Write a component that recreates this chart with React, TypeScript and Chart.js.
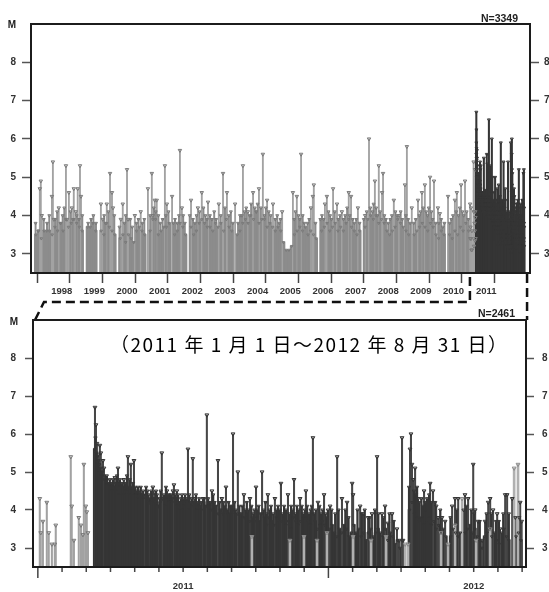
import React, { useEffect, useRef } from "react";
import { Chart, registerables } from "chart.js";

Chart.register(...registerables);

type Pt = [number, number];

// ---------------- axes / labels ----------------
const Y_MIN = 2.5;
const Y_MAX = 9;
const M_TICKS = [3, 4, 5, 6, 7, 8];

const TOP_X_MIN = 1997.56;
const TOP_X_MAX = 2012.84;
const TOP_YEAR_TICKS = [1998, 1999, 2000, 2001, 2002, 2003, 2004, 2005, 2006, 2007, 2008, 2009, 2010, 2011, 2012];
const TOP_YEAR_LABELS = [1998, 1999, 2000, 2001, 2002, 2003, 2004, 2005, 2006, 2007, 2008, 2009, 2010, 2011];
const TOP_COUNT_LABEL = "N=3349";

// bottom panel: months since 2011-01-01
const BOTTOM_X_MIN = -0.2;
const BOTTOM_X_MAX = 20.16;
const BOTTOM_MONTH_TICKS = [0, 1, 2, 3, 4, 5, 6, 7, 8, 9, 10, 11, 12, 13, 14, 15, 16, 17, 18, 19, 20];
const BOTTOM_LABEL_MONTHS = [6, 18];
const BOTTOM_LABEL_TEXT = ["2011", "2012"];
const BOTTOM_COUNT_LABEL = "N=2461";
const SUBTITLE = "（2011 年 1 月 1 日～2012 年 8 月 31 日）";

const ZOOM_START_YEAR = 2011;
const ZOOM_END_YEAR = 2012.75;

// ---------------- data: before 2011 (decimal years) ----------------
// monthly background activity (dense small events), rows = years 1997..2010
const PRE_BASE_FIRST_YEAR = 1997;
const PRE_BASE_MONTHLY: (number | null)[][] = [
  [null, null, null, null, null, null, null, null, 3.5, 3.6, 3.4, 3.6],
  [3.6, 3.6, 3.5, 3.7, 3.6, 3.8, 3.6, 3.9, 3.7, 3.8, 3.9, 3.8],
  [3.7, 3.6, null, 3.7, 3.7, 3.8, 3.6, null, 3.6, 3.5, 3.8, 3.7],
  [3.6, 3.5, null, 3.4, 3.5, 3.3, 3.5, 3.4, 3.3, 3.6, 3.7, 3.6],
  [3.5, null, 3.6, 3.9, 3.9, 3.5, 3.6, 3.7, 3.7, 3.8, null, 3.5],
  [3.6, 3.8, 3.7, 3.5, null, 3.7, 3.5, 3.6, 3.8, 3.9, 3.8, 3.7],
  [3.7, 3.6, 3.8, 3.7, 3.8, 3.6, 3.9, 3.7, 3.6, null, 3.5, 3.6],
  [3.8, 3.9, 3.8, 4.0, 3.9, 4.1, 3.8, 3.9, 3.9, 3.7, 3.8, 3.7],
  [3.6, 3.7, 3.6, 3.3, 3.1, 3.1, 3.2, 3.5, 3.6, 3.7, 3.6, 3.7],
  [3.5, 3.6, 3.5, 3.4, null, 3.6, 3.7, 3.8, 3.6, 3.7, 3.8, 3.6],
  [3.7, 3.6, 3.8, 3.9, 3.7, 3.6, 3.5, 3.6, null, 3.7, 3.9, 4.0],
  [3.9, 4.0, 3.8, 3.9, 3.8, 3.6, 3.5, 3.6, 3.7, 3.9, 3.8, 3.7],
  [3.6, 3.5, null, 3.5, 3.6, 3.7, 3.8, 3.7, 3.6, 3.8, 3.7, 3.5],
  [3.4, 3.6, 3.5, null, 3.5, 3.4, 3.6, 3.5, 3.7, 3.6, 3.8, 3.6],
];

// medium events poking above the background [year, M]
const PRE_MID: Pt[] = [
  [1997.7, 3.8], [1997.78, 3.6], [1997.95, 3.9],
  [1998.05, 3.8], [1998.12, 4.0], [1998.3, 3.9], [1998.36, 4.1], [1998.47, 3.8], [1998.53, 4.0],
  [1998.58, 4.2], [1998.77, 4.1], [1998.84, 3.9], [1998.96, 4.0],
  [1999.03, 3.9], [1999.13, 4.0], [1999.31, 3.8], [1999.4, 3.9], [1999.47, 4.0], [1999.55, 3.8],
  [1999.8, 4.0], [1999.84, 3.8], [1999.93, 4.1],
  [2000.11, 4.0], [2000.27, 3.7], [2000.42, 3.8], [2000.46, 4.0], [2000.6, 3.9], [2000.66, 3.7],
  [2000.79, 3.8], [2000.85, 3.9], [2000.97, 3.8],
  [2001.03, 3.9], [2001.21, 4.0], [2001.32, 4.2], [2001.38, 4.1], [2001.46, 4.0], [2001.52, 3.8],
  [2001.59, 3.9], [2001.69, 4.0], [2001.77, 4.1], [2001.92, 3.8], [2001.97, 3.9],
  [2002.04, 3.8], [2002.09, 4.0], [2002.22, 4.0], [2002.27, 3.8], [2002.42, 4.0], [2002.52, 3.9],
  [2002.58, 3.8], [2002.63, 4.0], [2002.72, 4.1], [2002.84, 4.2], [2002.9, 4.0], [2002.95, 3.9],
  [2003.04, 4.0], [2003.1, 3.9], [2003.17, 4.1], [2003.23, 3.9], [2003.37, 4.0], [2003.5, 4.2],
  [2003.62, 4.0], [2003.68, 4.1], [2003.74, 3.8], [2003.9, 3.8], [2003.96, 4.0],
  [2004.02, 4.0], [2004.1, 4.1], [2004.15, 4.2], [2004.25, 4.0], [2004.3, 4.3], [2004.41, 4.2],
  [2004.46, 4.1], [2004.5, 4.3], [2004.6, 4.2], [2004.71, 4.0], [2004.75, 4.2], [2004.84, 4.1],
  [2004.9, 4.0],
  [2005.04, 3.9], [2005.1, 4.0], [2005.16, 3.8], [2005.2, 3.9], [2005.62, 3.9], [2005.66, 4.1],
  [2005.75, 4.0], [2005.79, 3.9], [2005.88, 4.0], [2005.93, 3.8],
  [2006.03, 3.8], [2006.08, 3.9], [2006.27, 3.8], [2006.42, 3.9], [2006.47, 4.0], [2006.52, 3.9],
  [2006.67, 4.1], [2006.72, 4.0], [2006.76, 3.9], [2006.86, 4.1], [2006.97, 3.9],
  [2007.02, 4.0], [2007.13, 3.9], [2007.18, 4.0], [2007.24, 4.2], [2007.32, 4.0], [2007.41, 3.9],
  [2007.46, 3.8], [2007.52, 3.9], [2007.62, 3.8], [2007.75, 3.9], [2007.84, 4.1], [2007.95, 4.2],
  [2008.02, 4.1], [2008.05, 4.3], [2008.13, 4.2], [2008.17, 4.0], [2008.25, 4.1], [2008.38, 4.0],
  [2008.43, 3.9], [2008.5, 3.8], [2008.56, 3.9], [2008.61, 4.0], [2008.72, 4.1], [2008.77, 4.0],
  [2008.88, 4.1], [2008.93, 3.9],
  [2009.04, 4.0], [2009.11, 3.9], [2009.17, 3.8], [2009.28, 3.8], [2009.34, 3.9], [2009.45, 4.0],
  [2009.49, 4.1], [2009.57, 4.2], [2009.66, 4.1], [2009.7, 4.0], [2009.74, 4.2], [2009.82, 4.1],
  [2009.86, 3.9], [2009.95, 3.8],
  [2010.05, 3.8], [2010.12, 3.9], [2010.17, 3.7], [2010.22, 3.8], [2010.38, 3.8], [2010.43, 3.9],
  [2010.48, 4.0], [2010.58, 4.1], [2010.65, 4.0], [2010.69, 4.2], [2010.77, 4.1], [2010.81, 4.0],
  [2010.9, 4.1], [2010.95, 3.9],
];

// larger individual events [year, M]
const PRE_PEAKS: Pt[] = [
  [1997.83, 4.7], [1997.86, 4.9], [1997.89, 4.0], [1998.2, 4.5], [1998.23, 5.4], [1998.26, 3.9],
  [1998.41, 4.2], [1998.63, 5.3], [1998.66, 3.9], [1998.72, 4.6], [1998.81, 4.2], [1998.87, 4.7],
  [1998.93, 4.1], [1998.99, 4.7], [1999.06, 5.3], [1999.09, 4.5], [1999.7, 4.3], [1999.76, 3.9],
  [1999.88, 4.3], [1999.98, 5.1], [2000.04, 4.6], [2000.07, 4.2], [2000.31, 3.9], [2000.37, 4.3],
  [2000.5, 5.2], [2000.53, 3.9], [2000.74, 4.0], [2000.92, 4.1], [2001.14, 4.7], [2001.26, 5.1],
  [2001.29, 4.0], [2001.35, 4.4], [2001.41, 4.4], [2001.66, 5.3], [2001.72, 4.3], [2001.88, 4.5],
  [2002.12, 5.7], [2002.18, 4.2], [2002.46, 4.4], [2002.67, 4.2], [2002.79, 4.6], [2002.98, 4.35],
  [2003.31, 4.3], [2003.44, 5.1], [2003.56, 4.6], [2003.81, 4.3], [2004.05, 5.3], [2004.2, 4.1],
  [2004.36, 4.6], [2004.54, 4.7], [2004.66, 5.6], [2004.79, 4.4], [2004.97, 4.3], [2005.25, 4.1],
  [2005.58, 4.6], [2005.7, 4.5], [2005.83, 5.6], [2006.13, 4.2], [2006.19, 4.5], [2006.22, 4.8],
  [2006.56, 4.3], [2006.62, 4.5], [2006.81, 4.7], [2006.93, 4.3], [2007.08, 4.1], [2007.29, 4.6],
  [2007.36, 4.5], [2007.57, 4.2], [2007.79, 4.0], [2007.91, 6.0], [2008.09, 4.9], [2008.21, 5.3],
  [2008.31, 4.6], [2008.34, 5.1], [2008.67, 4.4], [2008.83, 4.0], [2009.01, 4.8], [2009.07, 5.8],
  [2009.22, 4.2], [2009.41, 4.4], [2009.53, 4.6], [2009.62, 4.8], [2009.78, 5.0], [2009.9, 4.9],
  [2010.02, 4.2], [2010.08, 4.05], [2010.33, 4.5], [2010.54, 4.4], [2010.6, 4.6], [2010.73, 4.8],
  [2010.85, 4.9],
];

// ---------------- data: 2011-01-01 .. 2012-08-31 (months since 2011-01-01) ----------------
// events before the 2011-03-11 mainshock [month, M]
const EARLY_2011: Pt[] = [
  [0.08, 4.3], [0.12, 3.4], [0.21, 3.7], [0.37, 4.2], [0.45, 3.4], [0.58, 3.1], [0.7, 3.1],
  [0.74, 3.6], [1.36, 5.4], [1.4, 4.1], [1.49, 3.2], [1.69, 3.8], [1.78, 3.6], [1.86, 3.35],
  [1.9, 5.2], [1.98, 4.1], [2.02, 3.95], [2.07, 3.4],
];

// dense aftershock background, rows = months 2 (Mar 2011) .. 19 (Aug 2012), 10 bins each
const DARK_BASE_FIRST_MONTH = 2;
const DARK_BASE_BINS: (number | null)[][] = [
  [null, null, null, 5.6, 5.4, 5.2, 5.0, 4.9, 4.7, 4.6],
  [4.5, 4.6, 4.5, 4.4, 4.6, 4.4, 4.5, 4.4, 4.5, 4.4],
  [4.4, 4.3, 4.4, 4.3, 4.4, 4.2, 4.3, 4.3, 4.2, 4.1],
  [4.2, 4.3, 4.1, 4.3, 4.4, 4.2, 4.3, 4.1, 4.2, 4.0],
  [4.1, 4.2, 4.0, 4.1, 4.2, 4.0, 4.1, 4.0, 4.2, 4.1],
  [4.2, 4.0, 4.0, 4.1, 3.9, 4.0, 3.9, 4.0, 3.9, 3.9],
  [4.0, 3.9, 3.9, 3.9, 3.8, 3.8, 3.9, 3.7, 3.8, 3.7],
  [3.8, 3.7, 3.9, 3.8, 3.6, 3.8, 3.7, 3.6, 3.8, 3.7],
  [3.7, 3.8, 3.6, 3.7, 3.5, 3.8, 3.7, 3.6, 3.7, 3.8],
  [3.8, 3.7, 3.6, 3.9, 3.7, 3.5, 3.6, 3.7, 3.6, 3.8],
  [3.5, 3.6, 3.4, 3.3, 3.5, 3.4, 3.6, 3.5, 3.3, 3.4],
  [3.6, 3.4, 3.5, 3.3, 3.4, 3.2, 3.4, 3.5, 3.3, 3.4],
  [3.5, 3.4, 3.3, 3.5, 3.2, 3.4, 3.3, 3.1, 3.2, 3.0],
  [3.2, null, null, 4.0, 4.2, 3.9, 3.8, 3.7, 3.8, 3.6],
  [3.7, 3.8, 3.6, 3.7, 3.5, 3.6, 3.4, 3.5, 3.3, null],
  [3.3, 3.5, 3.4, 3.3, 3.4, null, 3.4, 3.5, 3.6, 3.4],
  [3.5, 3.3, 3.2, 3.0, 3.3, 3.4, 3.5, 3.3, 3.4, 3.2],
  [3.1, 3.4, 3.5, 3.3, 3.2, null, null, 3.3, 3.4, 3.2],
];

// medium aftershocks forming the ragged top of the dark mass [month, M]
const DARK_MID: Pt[] = [
  [2.38, 5.9], [2.42, 5.5], [2.46, 5.2], [2.5, 5.3], [2.53, 5.0], [2.58, 5.1], [2.63, 4.9],
  [2.66, 5.0], [2.77, 4.8], [2.85, 4.9], [2.93, 4.7], [2.97, 4.8],
  [3.02, 4.7], [3.1, 4.8], [3.14, 4.6], [3.22, 4.7], [3.27, 4.9], [3.36, 4.7], [3.39, 4.8],
  [3.47, 4.7], [3.51, 4.6], [3.6, 4.7], [3.68, 4.9], [3.77, 4.6], [3.8, 4.8], [3.88, 4.6], [3.93, 4.7],
  [4.02, 4.6], [4.05, 4.5], [4.13, 4.6], [4.17, 4.5], [4.25, 4.6], [4.3, 4.4], [4.35, 4.5],
  [4.47, 4.6], [4.52, 4.5], [4.57, 4.4], [4.68, 4.5], [4.71, 4.4], [4.79, 4.3], [4.88, 4.5], [4.92, 4.4],
  [5.03, 4.3], [5.07, 4.5], [5.21, 4.4], [5.26, 4.3], [5.29, 4.6], [5.38, 4.4], [5.41, 4.3],
  [5.5, 4.4], [5.54, 4.3], [5.66, 4.4], [5.7, 4.3], [5.79, 4.4], [5.83, 4.2], [5.91, 4.3], [5.95, 4.4],
  [6.04, 4.3], [6.08, 4.4], [6.13, 4.2], [6.16, 4.3], [6.25, 4.4], [6.3, 4.2], [6.35, 4.3],
  [6.44, 4.2], [6.53, 4.4], [6.57, 4.2], [6.66, 4.3], [6.7, 4.1], [6.75, 4.2], [6.87, 4.3], [6.92, 4.1],
  [7.03, 4.3], [7.08, 4.1], [7.13, 4.2], [7.24, 4.4], [7.3, 4.2], [7.35, 4.1], [7.5, 4.2],
  [7.55, 4.0], [7.66, 4.2], [7.72, 4.1], [7.82, 4.0], [7.88, 4.2], [7.95, 4.1],
  [8.02, 4.1], [8.12, 4.2], [8.17, 4.0], [8.32, 4.1], [8.38, 3.9], [8.45, 4.1], [8.57, 4.0],
  [8.63, 4.2], [8.7, 4.0], [8.82, 4.1], [8.9, 3.9], [8.95, 4.0],
  [9.05, 4.0], [9.12, 4.1], [9.2, 3.9], [9.33, 4.0], [9.4, 4.2], [9.45, 3.9], [9.57, 4.0],
  [9.63, 4.1], [9.72, 3.9], [9.85, 4.0], [9.92, 4.1],
  [10.0, 4.0], [10.1, 3.9], [10.17, 4.1], [10.25, 4.0], [10.38, 3.9], [10.46, 4.1], [10.52, 4.0],
  [10.64, 3.9], [10.7, 4.1], [10.77, 4.0], [10.9, 4.1], [10.96, 3.9],
  [11.03, 4.0], [11.12, 4.1], [11.2, 3.9], [11.27, 4.0], [11.31, 4.1], [11.42, 3.9], [11.48, 4.0],
  [11.63, 4.1], [11.7, 3.9], [11.76, 4.0], [11.88, 3.9], [11.98, 4.0],
  [12.13, 4.0], [12.28, 3.9], [12.42, 4.0], [12.7, 4.0], [12.83, 3.8],
  [13.2, 4.0], [13.37, 3.9], [13.5, 4.0], [13.7, 3.8], [13.92, 4.0],
  [14.06, 3.9], [14.27, 3.8], [14.52, 3.9], [14.7, 3.7],
  [15.33, 4.6], [15.53, 4.5], [15.62, 4.4], [15.66, 4.6], [15.75, 4.2], [15.84, 4.3], [15.9, 4.1], [15.99, 4.2],
  [16.07, 4.3], [16.16, 4.4], [16.25, 4.2], [16.41, 4.2], [16.62, 4.0],
  [17.04, 3.8], [17.3, 4.0], [17.58, 4.0], [17.7, 4.1], [17.9, 4.0],
  [18.02, 3.9], [18.25, 3.7], [18.53, 3.9], [18.73, 3.9], [18.92, 3.7],
  [19.04, 3.7], [19.22, 3.9], [19.45, 3.9], [19.72, 3.8], [19.88, 3.8],
];

// larger aftershocks [month, M]
const DARK_PEAKS: Pt[] = [
  [2.36, 6.7], [2.4, 6.24], [2.44, 5.75], [2.48, 5.45], [2.56, 5.7], [2.6, 5.5], [2.69, 5.3],
  [2.73, 5.1], [2.81, 4.75], [2.89, 4.65], [3.06, 4.6], [3.18, 4.85], [3.31, 5.1], [3.43, 4.6],
  [3.55, 4.8], [3.64, 4.55], [3.72, 5.4], [3.84, 5.2], [3.97, 5.3], [4.09, 4.4], [4.21, 4.4],
  [4.42, 4.35], [4.63, 4.2], [4.75, 4.6], [4.83, 4.45], [4.96, 4.1], [5.12, 5.5], [5.17, 4.3],
  [5.33, 4.5], [5.45, 4.2], [5.58, 4.5], [5.62, 4.66], [5.74, 4.5], [5.87, 4.0], [5.99, 4.2],
  [6.2, 5.6], [6.4, 5.35], [6.49, 4.3], [6.61, 4.0], [6.82, 4.3], [6.98, 6.5], [7.19, 4.5],
  [7.44, 5.3], [7.6, 4.3], [7.77, 4.6], [8.06, 6.0], [8.26, 5.0], [8.51, 4.4], [8.76, 4.3],
  [9.01, 4.6], [9.26, 5.0], [9.5, 4.4], [9.79, 4.3], [10.04, 4.7], [10.33, 4.4], [10.58, 4.8],
  [10.83, 4.3], [11.07, 4.5], [11.36, 5.9], [11.57, 4.2], [11.82, 4.4], [12.07, 4.1], [12.36, 5.4],
  [12.56, 4.3], [12.77, 4.2], [12.98, 4.7], [13.02, 4.4], [13.31, 4.1], [13.43, 3.9], [13.64, 3.8],
  [13.8, 3.9], [14.01, 5.4], [14.21, 3.9], [14.34, 4.1], [14.46, 3.65], [14.63, 3.9], [14.83, 3.5],
  [14.92, 3.2], [15.04, 5.9], [15.08, 3.2], [15.37, 5.6], [15.41, 6.0], [15.45, 5.2], [15.5, 4.8],
  [15.58, 5.1], [15.7, 4.3], [15.79, 3.75], [15.95, 4.5], [16.03, 3.95], [16.2, 4.7], [16.32, 4.5],
  [16.45, 4.1], [16.53, 3.8], [16.69, 3.8], [16.82, 3.7], [17.11, 4.1], [17.23, 4.3], [17.36, 4.3],
  [17.64, 4.4], [17.77, 4.3], [17.98, 5.2], [18.06, 4.0], [18.18, 3.7], [18.35, 3.2], [18.47, 3.7],
  [18.6, 4.2], [18.68, 4.3], [18.8, 4.0], [18.97, 3.9], [19.09, 3.5], [19.3, 4.4], [19.38, 4.4],
  [19.59, 4.3], [19.92, 4.2], [19.98, 3.7],
];

// light-grey events among the aftershocks [month, M]
const LIGHT_LATE: Pt[] = [
  [8.84, 3.3], [10.41, 3.2], [10.99, 3.3], [11.53, 3.2], [11.94, 3.4], [13.02, 3.3], [13.76, 3.2],
  [14.38, 3.3], [15.17, 3.1], [15.29, 3.1], [16.65, 3.4], [16.94, 3.1], [17.23, 3.6], [17.52, 4.3],
  [18.1, 3.2], [18.68, 3.5], [19.67, 5.1], [19.83, 5.2],
];

// ---------------- helpers ----------------
const FONT = "'Liberation Sans', Arial, Helvetica, sans-serif";
const LIGHT = "#8c8c8c";
const LIGHT_STEM = "#a2a2a2";
const LIGHT_MARK = "#7a7a7a";
const DARK = "#353535";
const DARK_STEM = "#474747";

function rowsToPoints(rows: (number | null)[][], first: number, perRow: number): Pt[] {
  const out: Pt[] = [];
  rows.forEach((row, r) =>
    row.forEach((v, i) => {
      if (v != null) out.push([first + r + (i + 0.5) / perRow, v]);
    })
  );
  return out;
}

const monthsToYear = (pts: Pt[]): Pt[] => pts.map(([m, v]) => [ZOOM_START_YEAR + m / 12, v]);

function stems(pts: Pt[], color: string, thickness: number, order: number) {
  return {
    type: "bar" as const,
    data: pts.map(([t, m]) => ({ x: t, y: [Y_MIN, m] })),
    backgroundColor: color,
    borderWidth: 0,
    barThickness: thickness,
    grouped: false,
    order,
  };
}

function marks(pts: Pt[], color: string, r: number, order: number) {
  return {
    type: "line" as const,
    data: pts.map(([t, m]) => ({ x: t, y: m })),
    showLine: false,
    pointStyle: "triangle",
    rotation: 180,
    pointRadius: r,
    pointHoverRadius: r,
    pointBorderColor: color,
    pointBackgroundColor: "rgba(0,0,0,0)",
    pointBorderWidth: 1,
    order,
  };
}

const tickFont = { family: FONT, size: 10, weight: "bold" as const };

function yAxes(leftW: number, rightW: number, padL: number, padR: number, tl: number) {
  const common = {
    type: "linear" as const,
    min: Y_MIN,
    max: Y_MAX,
    bounds: "data" as const,
    border: { display: false },
    afterBuildTicks: (s: any) => {
      s.ticks = M_TICKS.map((v) => ({ value: v }));
    },
  };
  return {
    y: {
      ...common,
      position: "left" as const,
      afterFit: (s: any) => {
        s.width = leftW;
      },
      grid: { drawOnChartArea: false, tickLength: tl, tickColor: "#555", tickWidth: 1.5 },
      ticks: { padding: padL, font: tickFont, color: "#333" },
    },
    y2: {
      ...common,
      position: "right" as const,
      afterFit: (s: any) => {
        s.width = rightW;
      },
      grid: { drawOnChartArea: false, tickLength: tl, tickColor: "#555", tickWidth: 1.5 },
      ticks: { padding: padR, font: tickFont, color: "#333" },
    },
  };
}

function drawFrame(ctx: CanvasRenderingContext2D, a: any) {
  ctx.strokeStyle = "#1c1c1c";
  ctx.lineWidth = 2;
  ctx.strokeRect(a.left, a.top, a.right - a.left, a.bottom - a.top);
}

// ---------------- top chart ----------------
function topConfig(): any {
  const preBase = rowsToPoints(PRE_BASE_MONTHLY, PRE_BASE_FIRST_YEAR, 12);
  const early = monthsToYear(EARLY_2011);
  const after = monthsToYear([
    ...rowsToPoints(DARK_BASE_BINS, DARK_BASE_FIRST_MONTH, 10),
    ...DARK_MID,
    ...DARK_PEAKS,
    ...LIGHT_LATE,
  ]);
  const decor = {
    id: "topDecor",
    afterDraw(chart: any) {
      const { ctx, chartArea: a, scales } = chart;
      ctx.save();
      drawFrame(ctx, a);
      ctx.fillStyle = "#222";
      ctx.font = `bold 10px ${FONT}`;
      ctx.textAlign = "center";
      ctx.textBaseline = "middle";
      ctx.fillText("M", 12, a.top + 1);
      ctx.textAlign = "right";
      ctx.font = `bold 10.5px ${FONT}`;
      ctx.fillText(TOP_COUNT_LABEL, a.right - 12, a.top - 5);
      const xs = scales.x.getPixelForValue(ZOOM_START_YEAR);
      const xe = scales.x.getPixelForValue(ZOOM_END_YEAR);
      ctx.setLineDash([9, 5]);
      ctx.lineWidth = 2.5;
      ctx.strokeStyle = "#111";
      ctx.beginPath();
      ctx.moveTo(35, 320);
      ctx.lineTo(44, 302);
      ctx.lineTo(xs, 302);
      ctx.lineTo(xs, a.bottom + 3);
      ctx.stroke();
      ctx.beginPath();
      ctx.moveTo(xe, a.bottom + 1);
      ctx.lineTo(xe, 320);
      ctx.stroke();
      ctx.restore();
    },
  };
  return {
    type: "bar",
    data: {
      datasets: [
        stems(preBase, LIGHT, 3, 9),
        stems(PRE_MID, LIGHT, 1.3, 8),
        stems(PRE_PEAKS, LIGHT_STEM, 1.2, 8),
        stems(early, LIGHT_STEM, 1.2, 8),
        stems(after, DARK, 1.4, 7),
        marks(preBase, LIGHT_MARK, 1.5, 3),
        marks(PRE_MID, LIGHT_MARK, 1.7, 3),
        marks(PRE_PEAKS, LIGHT_MARK, 2, 3),
        marks(early, LIGHT_MARK, 2, 3),
        marks(after, DARK, 1.7, 2),
      ],
    },
    options: {
      responsive: false,
      animation: false,
      events: [],
      layout: { padding: { top: 24, left: 0, right: 0, bottom: 0 } },
      plugins: { legend: { display: false }, tooltip: { enabled: false } },
      scales: {
        x: {
          type: "linear",
          position: "bottom",
          min: TOP_X_MIN,
          max: TOP_X_MAX,
          bounds: "data",
          offset: false,
          border: { display: false },
          afterBuildTicks: (s: any) => {
            s.ticks = [
              ...TOP_YEAR_TICKS.map((v) => ({ value: v })),
              ...TOP_YEAR_LABELS.map((v) => ({ value: v + 0.5 })),
            ].sort((p, q) => p.value - q.value);
          },
          afterFit: (s: any) => {
            s.height = 57;
          },
          grid: {
            drawOnChartArea: false,
            tickLength: 10,
            tickWidth: 1.5,
            tickColor: (c: any) => (c.tick && c.tick.value % 1 === 0 ? "#444" : "rgba(0,0,0,0)"),
          },
          ticks: {
            autoSkip: false,
            maxRotation: 0,
            minRotation: 0,
            padding: 3,
            font: { family: FONT, size: 9.5, weight: "bold" },
            color: "#333",
            callback: (v: any) => (Number(v) % 1 === 0 ? "" : String(Math.floor(Number(v)))),
          },
        },
        ...yAxes(31, 19, 6, 5, 9),
      },
    },
    plugins: [decor],
  };
}

// ---------------- bottom chart ----------------
function bottomConfig(): any {
  const darkBase = rowsToPoints(DARK_BASE_BINS, DARK_BASE_FIRST_MONTH, 10);
  const decor = {
    id: "bottomDecor",
    afterDraw(chart: any) {
      const { ctx, chartArea: a, scales } = chart;
      ctx.save();
      ctx.strokeStyle = "#444";
      ctx.lineWidth = 1.5;
      BOTTOM_MONTH_TICKS.forEach((m) => {
        const x = scales.x.getPixelForValue(m);
        const len = m % 12 === 0 ? 11 : 5;
        ctx.beginPath();
        ctx.moveTo(x, a.bottom);
        ctx.lineTo(x, a.bottom + len);
        ctx.stroke();
      });
      drawFrame(ctx, a);
      ctx.fillStyle = "#222";
      ctx.font = `bold 10px ${FONT}`;
      ctx.textAlign = "center";
      ctx.textBaseline = "middle";
      ctx.fillText("M", 14, a.top + 2);
      ctx.textAlign = "right";
      ctx.font = `bold 10.5px ${FONT}`;
      ctx.fillText(BOTTOM_COUNT_LABEL, a.right - 11, a.top - 6);
      ctx.fillStyle = "#000";
      ctx.textAlign = "left";
      ctx.font = `19px 'Noto Sans CJK JP', sans-serif`;
      const target = 397;
      const w0 = ctx.measureText(SUBTITLE).width;
      const n = Array.from(SUBTITLE).length;
      if ("letterSpacing" in ctx) {
        (ctx as any).letterSpacing = `${Math.max(0, (target - w0) / (n - 1))}px`;
      }
      ctx.fillText(SUBTITLE, 110, a.top + 25);
      ctx.restore();
    },
  };
  return {
    type: "bar",
    data: {
      datasets: [
        stems(darkBase, DARK, 3, 9),
        stems(DARK_MID, DARK, 1.6, 8),
        stems(DARK_PEAKS, DARK_STEM, 1.4, 8),
        stems(EARLY_2011, LIGHT_STEM, 1.4, 8),
        stems(LIGHT_LATE, "#b0b0b0", 2, 6),
        marks(darkBase, DARK, 1.6, 3),
        marks(DARK_MID, DARK, 1.9, 3),
        marks(DARK_PEAKS, DARK, 2.2, 2),
        marks(EARLY_2011, LIGHT_MARK, 2.2, 2),
        marks(LIGHT_LATE, "#8a8a8a", 2.2, 1),
      ],
    },
    options: {
      responsive: false,
      animation: false,
      events: [],
      layout: { padding: { top: 60, left: 0, right: 0, bottom: 0 } },
      plugins: { legend: { display: false }, tooltip: { enabled: false } },
      scales: {
        x: {
          type: "linear",
          position: "bottom",
          min: BOTTOM_X_MIN,
          max: BOTTOM_X_MAX,
          bounds: "data",
          offset: false,
          border: { display: false },
          afterBuildTicks: (s: any) => {
            s.ticks = BOTTOM_MONTH_TICKS.map((v) => ({ value: v }));
          },
          afterFit: (s: any) => {
            s.height = 25;
          },
          grid: { drawOnChartArea: false, tickLength: 11, tickColor: "rgba(0,0,0,0)" },
          ticks: {
            autoSkip: false,
            maxRotation: 0,
            minRotation: 0,
            padding: 3,
            font: { family: FONT, size: 9.5, weight: "bold" },
            color: "#333",
            callback: (v: any) => {
              const k = BOTTOM_LABEL_MONTHS.indexOf(Number(v));
              return k >= 0 ? BOTTOM_LABEL_TEXT[k] : "";
            },
          },
        },
        ...yAxes(33, 23, 9, 8, 8),
      },
    },
    plugins: [decor],
  };
}

export default function App() {
  const topRef = useRef<HTMLCanvasElement>(null);
  const botRef = useRef<HTMLCanvasElement>(null);
  useEffect(() => {
    const c1 = new Chart(topRef.current as HTMLCanvasElement, topConfig());
    const c2 = new Chart(botRef.current as HTMLCanvasElement, bottomConfig());
    return () => {
      c1.destroy();
      c2.destroy();
    };
  }, []);
  return (
    <div
      style={{
        position: "absolute",
        left: 0,
        top: 0,
        width: 549,
        height: 592,
        overflow: "hidden",
        background: "#fff",
      }}
    >
      <canvas
        ref={topRef}
        width={549}
        height={330}
        style={{ position: "absolute", left: 0, top: 0, width: 549, height: 330 }}
      />
      <canvas
        ref={botRef}
        width={549}
        height={332}
        style={{ position: "absolute", left: 0, top: 260, width: 549, height: 332 }}
      />
    </div>
  );
}
